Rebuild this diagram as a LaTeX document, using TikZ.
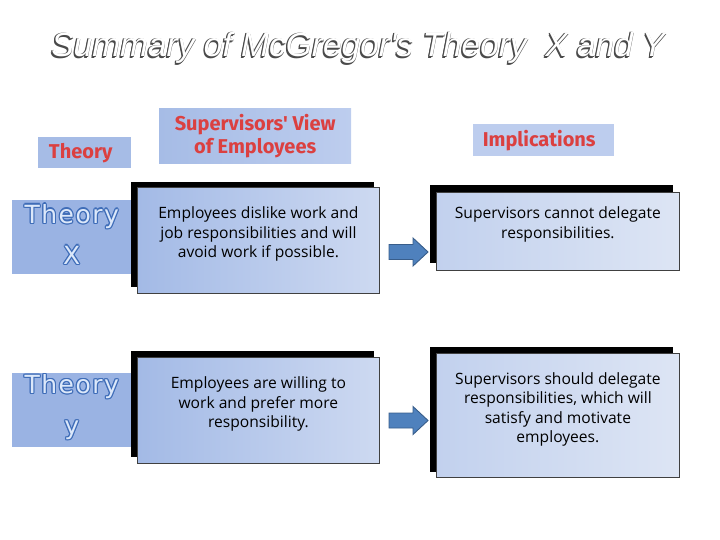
\documentclass[tikz,border=0pt]{standalone}
\usepackage{fontspec}
\setmainfont{Open Sans}
\newfontfamily\titlefont{Liberation Sans}
\newfontfamily\headfont{Fira Sans}
\newfontfamily\labelfont{DejaVu Sans}[LetterSpace=6]
\definecolor{hdrblue}{HTML}{A6BCE6}
\definecolor{hdrblueB}{HTML}{BDCDEE}
\definecolor{lblblue}{HTML}{9AB3E3}
\definecolor{lbldark}{HTML}{3F6DB8}
\definecolor{lbllight}{HTML}{DCE8FA}
\definecolor{hdrred}{HTML}{DB4040}
\definecolor{boxL}{HTML}{A3BAE6}
\definecolor{boxR}{HTML}{CDD9F1}
\definecolor{boxLb}{HTML}{C2D1EE}
\definecolor{boxRb}{HTML}{DDE5F4}
\definecolor{arrfill}{HTML}{4F81BD}
\definecolor{arrline}{HTML}{385D8A}
\definecolor{titleshadow}{HTML}{4A4A4A}
\begin{document}
\begin{tikzpicture}[x=1pt,y=-1pt,
  hdr/.style={fill=hdrblue, inner sep=0pt, anchor=north west, align=center,
    text=hdrred, font=\headfont\bfseries\fontsize{20}{23}\selectfont},
  lblbox/.style={fill=lblblue, inner sep=0pt, anchor=north west,
    minimum width=119pt, minimum height=74pt},
  lbltext/.style={inner sep=0pt, align=center,
    font=\labelfont\fontsize{25}{41}\selectfont},
  titletext/.style={font=\titlefont\itshape\fontsize{33.5}{38}\selectfont},
  shadowbox/.style={fill=black, draw=none},
  frontbox/.style={draw=black!75, line width=0.8pt, inner sep=0pt, anchor=north west},
  bodytext/.style={inner sep=0pt, align=center, text=black,
    font=\fontsize{15.6}{19.5}\selectfont},
  blockarrow/.style={fill=arrfill, draw=arrline, line width=0.9pt, line join=miter}
]
\useasboundingbox (0,0) rectangle (720,540);

% Title (white text with dark shadow)
\foreach \dx/\dy in {-1/1,-1.4/1.4,0/1.2,-1.2/0}
  \node[titletext, text=titleshadow, xshift=\dx pt, yshift=-\dy pt]
    at (358,48) {Summary of McGregor's Theory \ X and Y};
\node (title) [titletext, text=white] at (358,48) {Summary of McGregor's Theory \ X and Y};

% Column headers
\node (hTheory) [hdr, minimum width=93pt, minimum height=31pt, text width=85pt] at (38,137) {\hspace*{-8pt}Theory};
\node (hView) [hdr, minimum width=192pt, minimum height=55pt, left color=hdrblue, right color=hdrblueB] at (159,108) {Supervisors' View\\of Employees};
\node (hImpl) [hdr, fill=hdrblueB, minimum width=141pt, minimum height=32pt, text width=133pt] at (473,124) {\hspace*{-9pt}Implications};

% Theory labels (outlined text)
\node (tX) [lblbox] at (12,200) {};
\node (tY) [lblbox] at (12,373) {};
\foreach \n/\t in {tX/X, tY/y}{
  \foreach \dx/\dy in {1.2/0,-1.2/0,0/1.2,0/-1.2,0.85/0.85,-0.85/0.85,0.85/-0.85,-0.85/-0.85}
    \node[lbltext, text=lbldark, xshift=\dx pt, yshift=\dy pt] at ([yshift=3pt]\n.center) {Theory\\\t};
  \node[lbltext, text=lbllight] at ([yshift=3pt]\n.center) {Theory\\\t};
}

% Shadows
\fill[shadowbox] (131,182) rectangle (374,287);
\fill[shadowbox] (430,185) rectangle (673,263);
\fill[shadowbox] (131,351) rectangle (374,457);
\fill[shadowbox] (430,347) rectangle (673,472);

% Front boxes
\node (vX) [frontbox, left color=boxL, right color=boxR, minimum width=242pt, minimum height=106pt] at (137,187) {};
\node (iX) [frontbox, left color=boxLb, right color=boxRb, minimum width=243pt, minimum height=78pt] at (436,192) {};
\node (vY) [frontbox, left color=boxL, right color=boxR, minimum width=242pt, minimum height=106pt] at (137,357) {};
\node (iY) [frontbox, left color=boxLb, right color=boxRb, minimum width=243pt, minimum height=124pt] at (436,353) {};

% Texts
\node (vXt) [bodytext] at ([yshift=6pt]vX.center) {Employees dislike work and\\job responsibilities and will\\avoid work if possible.};
\node (iXt) [bodytext] at ([yshift=7pt]iX.center) {Supervisors cannot delegate\\responsibilities.};
\node (vYt) [bodytext] at ([yshift=6pt]vY.center) {Employees are willing to\\work and prefer more\\responsibility.};
\node (iYt) [bodytext] at ([yshift=6pt]iY.center) {Supervisors should delegate\\responsibilities, which will\\satisfy and motivate\\employees.};

% Block arrows
\coordinate (aX) at (389,252);
\coordinate (aY) at (389,420.5);
\foreach \a in {aX,aY}
  \draw[blockarrow] (\a) ++(0,-7.5) -- ++(24,0) -- ++(0,-6.5) -- ++(15,14) -- ++(-15,14) -- ++(0,-6.5) -- ++(-24,0) -- cycle;
\end{tikzpicture}
\end{document}
